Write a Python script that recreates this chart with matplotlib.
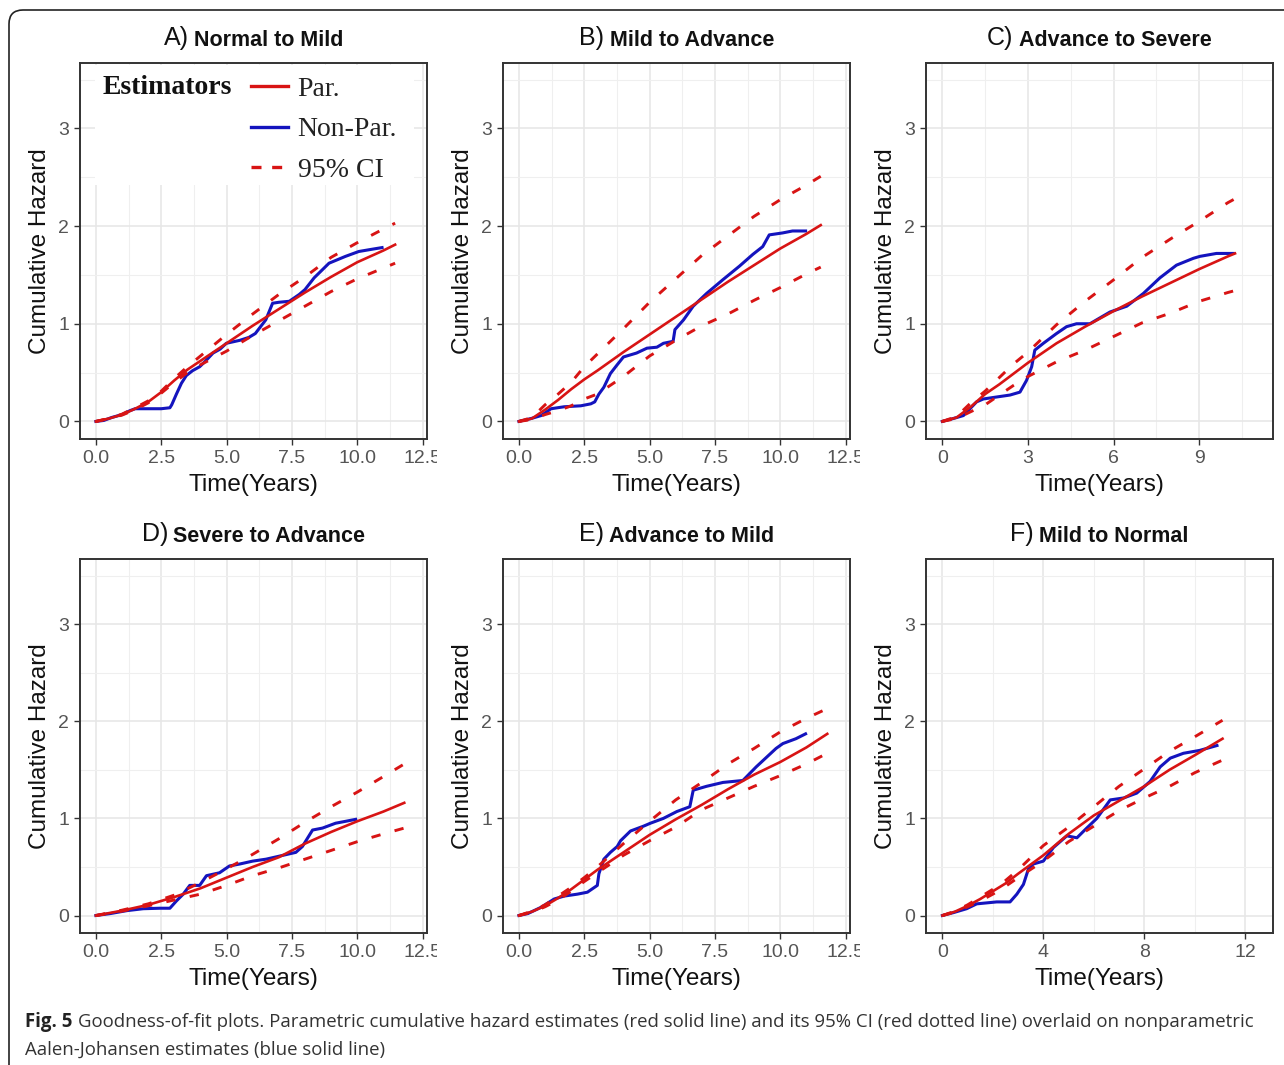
import matplotlib
matplotlib.use("Agg")
import matplotlib.pyplot as plt
from matplotlib.lines import Line2D
from matplotlib.patches import FancyBboxPatch, Rectangle
from matplotlib.offsetbox import TextArea, HPacker, AnnotationBbox
from matplotlib.transforms import Bbox, TransformedBbox, IdentityTransform

plt.rcParams['font.family'] = ['Liberation Sans', 'DejaVu Sans']

# ---- data ----
# A) Normal to Mild
A_t = [0, 0.5, 1, 1.5, 2, 2.5, 3, 3.5, 4, 5, 6, 7, 8, 9, 10, 11, 11.45]
A_par = [0, 0.03, 0.07, 0.13, 0.20, 0.30, 0.42, 0.53, 0.62, 0.80, 0.98, 1.15, 1.32, 1.48, 1.63, 1.75, 1.81]
A_upper = [0, 0.03, 0.075, 0.14, 0.21, 0.31, 0.44, 0.56, 0.67, 0.89, 1.10, 1.30, 1.48, 1.68, 1.83, 1.97, 2.03]
A_lower = [0, 0.03, 0.065, 0.12, 0.19, 0.29, 0.40, 0.50, 0.58, 0.72, 0.88, 1.03, 1.18, 1.33, 1.46, 1.57, 1.62]
A_np_t = [0, 0.3, 0.6, 1.0, 1.3, 1.5, 2.0, 2.5, 2.83, 2.9, 3.08, 3.27, 3.46, 3.7, 3.97, 4.2, 4.48,
          4.75, 4.99, 5.5, 5.85, 6.1, 6.5, 6.76, 7.0, 7.4, 7.78, 8.0, 8.35, 8.92, 9.55, 10.06, 10.5, 10.95]
A_np = [0, 0.01, 0.04, 0.07, 0.11, 0.13, 0.13, 0.13, 0.14, 0.17, 0.28, 0.39, 0.47, 0.52, 0.56, 0.62, 0.70,
        0.74, 0.80, 0.83, 0.86, 0.90, 1.04, 1.21, 1.22, 1.23, 1.30, 1.35, 1.47, 1.62, 1.69, 1.74, 1.76, 1.78]

# B) Mild to Advance
B_t = [0, 0.5, 1, 1.5, 2, 2.5, 3, 4, 5, 6, 7, 8, 9, 10, 11, 11.55]
B_par = [0, 0.03, 0.12, 0.22, 0.33, 0.43, 0.52, 0.71, 0.89, 1.07, 1.25, 1.43, 1.60, 1.77, 1.92, 2.01]
B_upper = [0, 0.04, 0.17, 0.28, 0.40, 0.56, 0.69, 0.95, 1.22, 1.46, 1.70, 1.90, 2.10, 2.27, 2.42, 2.51]
B_lower = [0, 0.02, 0.07, 0.11, 0.16, 0.23, 0.28, 0.46, 0.67, 0.83, 0.98, 1.10, 1.24, 1.37, 1.51, 1.58]
B_np_t = [0, 0.47, 0.85, 1.23, 1.73, 2.37, 2.75, 2.9, 3.06, 3.25, 3.5, 3.76, 4.0, 4.5, 4.9, 5.28, 5.53,
          5.9, 5.97, 6.3, 6.67, 7.18, 7.8, 8.44, 8.95, 9.33, 9.58, 10.09, 10.47, 10.97]
B_np = [0, 0.03, 0.06, 0.13, 0.15, 0.16, 0.18, 0.20, 0.28, 0.35, 0.49, 0.58, 0.66, 0.70, 0.75, 0.76, 0.80,
        0.82, 0.94, 1.04, 1.18, 1.31, 1.45, 1.59, 1.71, 1.79, 1.91, 1.93, 1.95, 1.95]

# C) Advance to Severe
C_t = [0, 0.5, 1, 1.5, 2, 2.5, 3, 4, 5, 6, 7, 8, 9, 10, 10.25]
C_par = [0, 0.04, 0.15, 0.28, 0.38, 0.49, 0.60, 0.80, 0.97, 1.13, 1.28, 1.42, 1.56, 1.69, 1.72]
C_upper = [0, 0.05, 0.19, 0.31, 0.45, 0.59, 0.71, 0.99, 1.23, 1.45, 1.68, 1.87, 2.05, 2.24, 2.28]
C_lower = [0, 0.03, 0.10, 0.17, 0.27, 0.37, 0.46, 0.61, 0.73, 0.87, 1.01, 1.11, 1.23, 1.32, 1.34]
C_np_t = [0, 0.39, 0.74, 0.97, 1.2, 1.44, 1.9, 2.37, 2.72, 2.95, 3.13, 3.24, 3.54, 4.0, 4.35, 4.7, 5.17,
          5.52, 5.87, 6.46, 7.04, 7.62, 8.2, 8.79, 9.02, 9.6, 10.19]
C_np = [0, 0.03, 0.06, 0.13, 0.20, 0.23, 0.25, 0.27, 0.30, 0.42, 0.56, 0.73, 0.80, 0.90, 0.97, 1.0, 1.0,
        1.06, 1.12, 1.18, 1.31, 1.47, 1.60, 1.67, 1.69, 1.72, 1.72]

# D) Severe to Advance
D_t = [0, 1, 2, 3, 4, 5, 6, 7, 8, 9, 10, 11, 11.8]
D_par = [0, 0.05, 0.11, 0.19, 0.28, 0.39, 0.50, 0.60, 0.74, 0.86, 0.97, 1.07, 1.16]
D_upper = [0, 0.055, 0.12, 0.21, 0.34, 0.48, 0.63, 0.79, 0.96, 1.12, 1.27, 1.43, 1.56]
D_lower = [0, 0.045, 0.10, 0.16, 0.22, 0.31, 0.41, 0.49, 0.58, 0.67, 0.76, 0.84, 0.90]
D_np_t = [0, 0.55, 1.18, 1.81, 2.45, 2.83, 3.08, 3.34, 3.59, 3.97, 4.23, 4.73, 5.11, 5.5, 6.0, 6.51,
          7.0, 7.65, 7.9, 8.29, 8.67, 9.17, 9.56, 9.94]
D_np = [0, 0.02, 0.05, 0.07, 0.075, 0.075, 0.15, 0.22, 0.31, 0.31, 0.41, 0.44, 0.51, 0.53, 0.56, 0.58,
        0.61, 0.65, 0.71, 0.88, 0.90, 0.95, 0.97, 0.99]

# E) Advance to Mild
E_t = [0, 0.5, 1, 1.5, 2, 2.5, 3, 4, 5, 6, 7, 8, 9, 10, 11, 11.8]
E_par = [0, 0.04, 0.10, 0.18, 0.27, 0.37, 0.47, 0.65, 0.83, 0.99, 1.14, 1.30, 1.45, 1.58, 1.73, 1.87]
E_upper = [0, 0.045, 0.11, 0.20, 0.29, 0.39, 0.50, 0.74, 0.97, 1.19, 1.37, 1.56, 1.72, 1.89, 2.03, 2.13]
E_lower = [0, 0.035, 0.09, 0.16, 0.25, 0.35, 0.44, 0.62, 0.77, 0.91, 1.09, 1.21, 1.33, 1.44, 1.56, 1.67]
E_np_t = [0, 0.34, 0.85, 1.35, 1.73, 2.24, 2.62, 3.0, 3.06, 3.25, 3.5, 3.76, 3.89, 4.27, 4.77, 5.03,
          5.53, 6.04, 6.54, 6.67, 7.18, 7.81, 8.57, 9.08, 9.84, 10.1, 10.6, 10.97]
E_np = [0, 0.02, 0.085, 0.17, 0.20, 0.22, 0.24, 0.31, 0.43, 0.58, 0.65, 0.71, 0.77, 0.87, 0.92, 0.95,
        1.0, 1.07, 1.12, 1.29, 1.33, 1.37, 1.39, 1.53, 1.72, 1.77, 1.82, 1.87]

# F) Mild to Normal
F_t = [0, 0.5, 1, 1.5, 2, 2.5, 3, 4, 5, 6, 7, 8, 9, 10, 11.1]
F_par = [0, 0.04, 0.10, 0.17, 0.25, 0.33, 0.43, 0.62, 0.84, 1.03, 1.18, 1.33, 1.50, 1.65, 1.82]
F_upper = [0, 0.045, 0.11, 0.19, 0.27, 0.36, 0.47, 0.72, 0.91, 1.12, 1.33, 1.51, 1.69, 1.84, 2.01]
F_lower = [0, 0.035, 0.09, 0.15, 0.22, 0.30, 0.39, 0.56, 0.76, 0.92, 1.08, 1.21, 1.33, 1.47, 1.60]
F_np_t = [0, 0.44, 0.96, 1.36, 2.15, 2.68, 2.95, 3.21, 3.41, 3.6, 4.0, 4.4, 4.93, 5.33, 5.72, 6.12,
          6.65, 7.18, 7.7, 8.23, 8.63, 9.03, 9.55, 10.2, 10.88]
F_np = [0, 0.03, 0.07, 0.12, 0.14, 0.14, 0.22, 0.32, 0.48, 0.53, 0.56, 0.70, 0.82, 0.80, 0.90, 1.0,
        1.19, 1.21, 1.26, 1.38, 1.53, 1.62, 1.67, 1.70, 1.75]

letters = ['A)', 'B)', 'C)', 'D)', 'E)', 'F)']
titles = ['Normal to Mild', 'Mild to Advance', 'Advance to Severe',
          'Severe to Advance', 'Advance to Mild', 'Mild to Normal']

ticks_25 = [0, 2.5, 5, 7.5, 10, 12.5]
labels_25 = ['0.0', '2.5', '5.0', '7.5', '10.0', '12.5']
ticks_3 = [0, 3, 6, 9]
labels_3 = ['0', '3', '6', '9']
ticks_4 = [0, 4, 8, 12]
labels_4 = ['0', '4', '8', '12']
y_ticks = [0, 1, 2, 3]

caption_bold = 'Fig. 5'
caption_1 = ('Goodness-of-fit plots. Parametric cumulative hazard estimates (red solid line) and its 95% CI '
             '(red dotted line) overlaid on nonparametric')
caption_2 = 'Aalen-Johansen estimates (blue solid line)'

RED = '#D81414'
BLUE = '#1414BE'

fig = plt.figure(figsize=(12.84, 10.65), dpi=100)

# outer rounded frame (runs off the right/bottom edges like the source)
frame = FancyBboxPatch((9, -30), 1320, 1065 - 10 + 30, boxstyle='round,pad=0,rounding_size=14',
                       transform=None, facecolor='none', edgecolor='#222222', linewidth=1.2)
fig.add_artist(frame)

W, H = 1284.0, 1065.0
cols = [80, 503, 926]
rows = [(63, 439), (559, 933)]
panel_w = 347

panels = [
    (A_t, A_par, A_upper, A_lower, A_np_t, A_np, ticks_25, labels_25, (-0.61, 12.67)),
    (B_t, B_par, B_upper, B_lower, B_np_t, B_np, ticks_25, labels_25, (-0.61, 12.67)),
    (C_t, C_par, C_upper, C_lower, C_np_t, C_np, ticks_3, labels_3, (-0.57, 11.58)),
    (D_t, D_par, D_upper, D_lower, D_np_t, D_np, ticks_25, labels_25, (-0.61, 12.67)),
    (E_t, E_par, E_upper, E_lower, E_np_t, E_np, ticks_25, labels_25, (-0.61, 12.67)),
    (F_t, F_par, F_upper, F_lower, F_np_t, F_np, ticks_4, labels_4, (-0.65, 13.1)),
]

clip_right = [437, 860, None, 437, 860, None]

axes = []
for i, (t, par, up, lo, nt, nh, xt, xl, xlim) in enumerate(panels):
    r, c = divmod(i, 3)
    top, bot = rows[r]
    ax = fig.add_axes([cols[c] / W, 1 - bot / H, panel_w / W, (bot - top) / H])
    axes.append(ax)

    ax.plot(nt, nh, color=BLUE, lw=2.2, zorder=3)
    ax.plot(t, par, color=RED, lw=1.9, zorder=4)
    ax.plot(t, up, color=RED, lw=2.1, dashes=(3.2, 5.0), zorder=5)
    ax.plot(t, lo, color=RED, lw=2.1, dashes=(3.2, 5.0), zorder=5)

    ax.set_xticks(xt)
    ax.set_xticklabels(xl)
    step = xt[1] - xt[0]
    ax.set_xticks([v + step / 2 for v in xt if v + step / 2 < xlim[1]], minor=True)
    ax.set_yticks(y_ticks)
    ax.set_yticks([0.5, 1.5, 2.5, 3.5], minor=True)
    ax.set_xlim(*xlim)
    ax.set_ylim(-0.18, 3.67)
    ax.grid(which='major', color='#E6E6E6', lw=1.1, zorder=0)
    ax.grid(which='minor', color='#EFEFEF', lw=0.8, zorder=0)
    ax.set_axisbelow(True)
    ax.tick_params(which='major', length=4, width=1.0, color='#333333', labelcolor='#555555',
                   labelsize=14, pad=4)
    ax.tick_params(which='minor', length=0)
    for s in ax.spines.values():
        s.set_color('#333333')
        s.set_linewidth(1.4)
    ax.set_xlabel('Time(Years)', fontsize=17.5, labelpad=5, color='#111111')
    ax.set_ylabel('Cumulative Hazard', fontsize=17.5, labelpad=5, color='#111111')

    if clip_right[i] is not None:
        cb = TransformedBbox(Bbox([[0, 0], [clip_right[i], H]]), IdentityTransform())
        for lab in ax.get_xticklabels():
            lab.set_clip_box(cb)
            lab.set_clip_on(True)

    # two-part title: letter in regular, name in bold
    packed = HPacker(children=[TextArea(letters[i], textprops=dict(fontsize=18, color='#111111')),
                               TextArea(titles[i], textprops=dict(fontsize=15.5, fontweight='bold',
                                                                  color='#111111'))],
                     align='baseline', pad=0, sep=4)
    ab = AnnotationBbox(packed, (0.5, 1.0), xycoords='axes fraction', xybox=(0, 9),
                        boxcoords='offset points', box_alignment=(0.5, 0), frameon=False)
    ax.add_artist(ab)

# legend in panel A with white background over the grid
axA = axes[0]
axA.add_patch(Rectangle((0.043, 0.676), 0.92, 0.32, transform=axA.transAxes,
                        facecolor='white', edgecolor='none', zorder=1))
handles = [Line2D([], [], color=RED, lw=2.4),
           Line2D([], [], color=BLUE, lw=2.4),
           Line2D([], [], color=RED, lw=2.4, dashes=(3.0, 3.2))]
leg = axA.legend(handles, ['Par.', 'Non-Par.', '95% CI'], loc='upper left',
                 bbox_to_anchor=(0.494, 0.965), frameon=False, handlelength=1.3,
                 handletextpad=0.36, labelspacing=0.55, borderaxespad=0, borderpad=0,
                 prop=dict(family='Liberation Serif', size=20))
for txt in leg.get_texts():
    txt.set_color('#222222')
axA.text(0.066, 0.934, 'Estimators', transform=axA.transAxes, fontsize=20, fontweight='bold',
         family='Liberation Serif', color='#111111', va='center', ha='left', zorder=6)

# caption
cap_font = ['Open Sans', 'DejaVu Sans']
line1 = HPacker(children=[TextArea(caption_bold, textprops=dict(fontsize=13.4, fontweight='bold',
                                                                family=cap_font, color='#222222')),
                          TextArea(caption_1, textprops=dict(fontsize=13.4, family=cap_font,
                                                             color='#333333'))],
                align='baseline', pad=0, sep=4)
fig.add_artist(AnnotationBbox(line1, (25 / W, 1 - 1022 / H), xycoords='figure fraction',
                              box_alignment=(0, 0.5), frameon=False))
fig.text(25 / W, 1 - 1050 / H, caption_2, fontsize=13.4, family=cap_font, color='#333333',
         ha='left', va='center')

fig.savefig('out.png', dpi=100)
